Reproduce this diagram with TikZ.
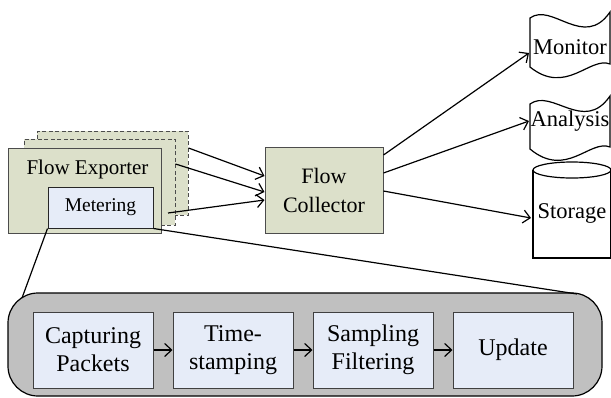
\documentclass[tikz,border=0pt]{standalone}
\usepackage{fontspec}
\IfFontExistsTF{LiberationSerif-Regular.ttf}
  {\newfontfamily\timesface{LiberationSerif}[Extension=.ttf,UprightFont=*-Regular]}
  {\newcommand\timesface{\rmfamily}}
\usetikzlibrary{arrows.meta}
\definecolor{exportfill}{HTML}{DCE0CA}
\definecolor{meterfill}{HTML}{E6ECF8}
\definecolor{pipegray}{HTML}{C0C0C0}
\newcommand\txt[2]{\timesface\fontsize{#1}{#2}\selectfont}
\begin{document}
\begin{tikzpicture}[x=1pt,y=-1pt,line width=1.2pt,
  >={Straight Barb[length=7pt,width=13pt]},
  exporterbox/.style={draw=black!70,fill=exportfill,line width=1pt,inner sep=0pt},
  dashedbox/.style={exporterbox,dash pattern=on 4pt off 2.5pt},
  stagebox/.style={draw=black!75,fill=meterfill,line width=1pt,inner sep=0pt,
    minimum width=120pt,minimum height=76pt,align=center,
    font=\txt{24}{28}},
  outlabel/.style={inner sep=0pt,font=\txt{22.5}{26}},
  doc/.style={draw=black,fill=white,line width=1.2pt},
  flow/.style={->,line width=1.2pt}]
\useasboundingbox (0,0) rectangle (611,397);

% stacked exporters
\node[dashedbox,minimum width=151pt,minimum height=84pt] (back) at (112.5,173) {};
\node[dashedbox,minimum width=151pt,minimum height=86pt] (mid) at (99.5,182) {};
\node[exporterbox,minimum width=153pt,minimum height=85pt] (exp) at (84.5,190.5) {};
\node[inner sep=0pt,anchor=base,font=\txt{21}{24}] (explabel) at (87.5,174) {Flow Exporter};
\node[draw=black!85,fill=meterfill,line width=1pt,inner sep=0pt,
  minimum width=105pt,minimum height=41pt,font=\txt{19.5}{22}] (meter) at (100.5,207.5) {Metering};
\coordinate (expout) at (168,213);

% collector
\node[exporterbox,minimum width=118pt,minimum height=86pt,align=center,
  font=\txt{22}{29}] (coll) at (324,190) {Flow\\Collector};

% consumers
\draw[doc] (530,18) .. controls (552,2) and (584,50) .. (610,12)
  -- (610,64) .. controls (590,56) and (566,96) .. (530,67) -- cycle;
\node[outlabel] (mon) at (570,47) {Monitor};
\draw[doc] (530,104) .. controls (552,88) and (584,134) .. (610,96)
  -- (610,147) .. controls (590,139) and (566,179) .. (530,149) -- cycle;
\node[outlabel] (ana) at (570,121) {Analysis};
\draw[doc] (533,170) -- (533,258) -- (611,258) -- (611,170);
\draw[doc] (572,170) ellipse [x radius=39pt,y radius=8pt];
\node[outlabel] (sto) at (572,213) {Storage};
\coordinate (monin) at (529,53);
\coordinate (anain) at (529,121);
\coordinate (stoin) at (531,218);

% metering pipeline
\node[draw=black,fill=pipegray,line width=1.2pt,rounded corners=30pt,
  minimum width=594pt,minimum height=103pt] (pipe) at (305,344.5) {};
\node[stagebox] (cap) at (93,350) {Capturing\\Packets};
\node[stagebox] (ts) at (233,350) {Time-\\stamping};
\node[stagebox] (samp) at (373,350) {Sampling\\Filtering};
\node[stagebox] (upd) at (513,350) {Update};
\draw[flow] (cap) -- (ts);
\draw[flow] (ts) -- (samp);
\draw[flow] (samp) -- (upd);

% zoom lines from the metering block
\coordinate (pl) at (22,298);
\coordinate (pr) at (577,294);
\draw (meter.south west) -- (pl);
\draw (meter.south east) -- (pr);

% exporters to collector
\draw[flow] (back.east |- 0,148) -- (coll.west |- 0,176);
\draw[flow] (mid.east |- 0,164) -- (coll.west |- 0,192);
\draw[flow] (expout) -- (coll.west |- 0,200);

% collector to consumers
\draw[flow] (coll.east |- 0,155) -- (monin);
\draw[flow] (coll.east |- 0,173) -- (anain);
\draw[flow] (coll.east |- 0,191) -- (stoin);
\end{tikzpicture}
\end{document}
